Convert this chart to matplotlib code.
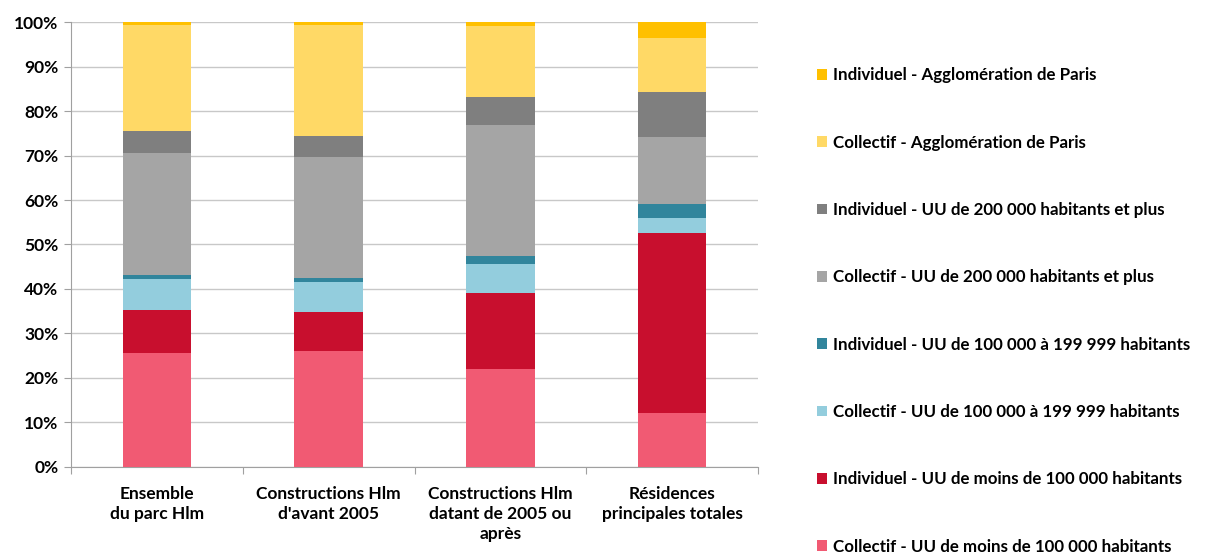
import numpy as np
import matplotlib.pyplot as plt

plt.rcParams['font.family'] = ['Lato', 'DejaVu Sans']

categories = ["Ensemble\ndu parc Hlm", "Constructions Hlm\nd'avant 2005",
              "Constructions Hlm\ndatant de 2005 ou\naprès", "Résidences\nprincipales totales"]

# series from bottom to top of the stack (%)
series_names = [
    "Collectif - UU de moins de 100 000 habitants",
    "Individuel - UU de moins de 100 000 habitants",
    "Collectif - UU de 100 000 à 199 999 habitants",
    "Individuel - UU de 100 000 à 199 999 habitants",
    "Collectif - UU de 200 000 habitants et plus",
    "Individuel - UU de 200 000 habitants et plus",
    "Collectif - Agglomération de Paris",
    "Individuel - Agglomération de Paris",
]
coll_moins_100k = [25.6, 26.1, 22.0, 12.1]
ind_moins_100k = [9.6, 8.6, 17.1, 40.5]
coll_100_199k = [7.1, 6.9, 6.5, 3.4]
ind_100_199k = [0.8, 0.9, 1.8, 3.1]
coll_200k_plus = [27.5, 27.3, 29.6, 15.1]
ind_200k_plus = [4.9, 4.6, 6.2, 10.1]
coll_paris = [23.9, 25.0, 15.9, 12.2]
ind_paris = [0.6, 0.6, 0.9, 3.5]

values = [coll_moins_100k, ind_moins_100k, coll_100_199k, ind_100_199k,
          coll_200k_plus, ind_200k_plus, coll_paris, ind_paris]
colors = ["#F15A73", "#C80F2E", "#93CDDD", "#31859C",
          "#A5A5A5", "#7F7F7F", "#FFD966", "#FFC000"]

fig = plt.figure(figsize=(12.06, 5.58), dpi=100)
ax = fig.add_axes([71 / 1206, 1 - 466.7 / 558, (758 - 71) / 1206, (466.7 - 22.3) / 558])

x = np.arange(len(categories))
bottom = np.zeros(len(categories))
handles = []
for name, vals, col in zip(series_names, values, colors):
    b = ax.bar(x, vals, 0.4, bottom=bottom, color=col, label=name, zorder=3)
    handles.append(b)
    bottom += np.array(vals)

ax.set_xlim(-0.5, 3.5)
ax.set_ylim(0, 100)
ax.set_yticks(np.arange(0, 101, 10))
ax.set_yticklabels([f"{v}%" for v in range(0, 101, 10)], fontweight='bold', fontsize=12.5)
ax.yaxis.grid(True, color="#C8C8C8", linewidth=1, zorder=0)

# category labels between tick marks at the boundaries
ax.set_xticks(np.arange(-0.5, 4, 1))
ax.set_xticklabels([])
ax.set_xticks(x, minor=True)
ax.set_xticklabels(categories, minor=True, fontweight='bold', fontsize=12.5,
                   va='top', linespacing=1.3)
ax.tick_params(axis='x', which='minor', length=0, pad=14)
ax.tick_params(axis='x', which='major', length=5, color="#A0A0A0")
ax.tick_params(axis='y', length=5, color="#A0A0A0", pad=4)

for s in ["top", "right"]:
    ax.spines[s].set_visible(False)
for s in ["left", "bottom"]:
    ax.spines[s].set_color("#A0A0A0")

fig.legend(handles[::-1], series_names[::-1], loc="upper left",
           bbox_to_anchor=(802 / 1206, 1 - 52 / 558), frameon=False,
           prop={'weight': 'bold', 'size': 12.2}, handlelength=0.6, handleheight=0.6,
           handletextpad=0.35, labelspacing=3.03)

plt.savefig("out.png", dpi=100)
